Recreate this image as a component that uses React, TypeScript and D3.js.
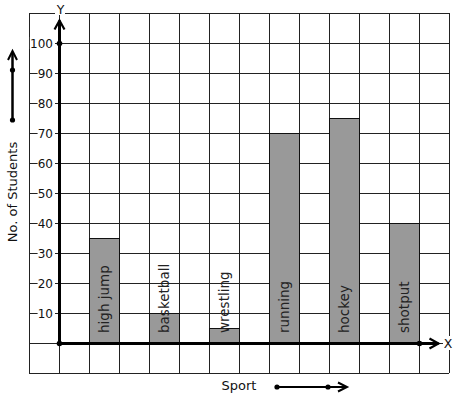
import React from 'react'
import * as d3 from 'd3'

// chart data
const sports = ['high jump', 'basketball', 'wrestling', 'running', 'hockey', 'shotput']
const students = [35, 10, 5, 70, 75, 40]
const yTicks = [10, 20, 30, 40, 50, 60, 70, 80, 90, 100]

const W = 457
const H = 399
const FONT = 'DejaVu Sans, sans-serif'

export default function App() {
  // grid units: one column per unit, one row per 10 students
  const x = d3.scaleLinear().domain([-1, 13]).range([29, 449])
  const y = d3.scaleLinear().domain([-10, 110]).range([373, 13])
  const band = d3.scaleBand<string>()
    .domain(sports)
    .range([x(1), x(12)])
    .paddingInner(0.5)
    .paddingOuter(0)

  const gridX = d3.range(-1, 14)
  const gridY = d3.range(-10, 111, 10)

  const x0 = x(0)
  const y0 = y(0)
  const yTop = y(107.5)
  const xEnd = x(12.65)

  return (
    <svg width={W} height={H} style={{ position: 'absolute', left: 0, top: 0, background: '#fff' }}
      fontFamily={FONT}>
      {/* grid */}
      <g stroke='#222' strokeWidth={1} shapeRendering='crispEdges'>
        {gridX.map(v => (
          <line key={'gx' + v} x1={x(v) + 0.5} x2={x(v) + 0.5} y1={y(-10)} y2={y(110)} />
        ))}
        {gridY.map(v => (
          <line key={'gy' + v} x1={x(-1)} x2={x(13)} y1={y(v) + 0.5} y2={y(v) + 0.5} />
        ))}
      </g>

      {/* bars */}
      {sports.map((s, i) => (
        <rect key={s} x={band(s)! + 0.5} y={y(students[i]) + 0.5} width={band.bandwidth()}
          height={y0 - y(students[i])} fill='#999' stroke='#111' strokeWidth={1} />
      ))}

      {/* bar labels */}
      {sports.map(s => {
        const cx = band(s)! + band.bandwidth() / 2 + 5
        const by = y0 - 10
        return (
          <text key={'l' + s} transform={`translate(${cx},${by}) rotate(-90)`}
            fontSize={13.5} fill='#222'>{s}</text>
        )
      })}

      {/* axes */}
      <g stroke='#000' strokeWidth={3} fill='none'>
        <line x1={x0 + 0.5} x2={x0 + 0.5} y1={y0} y2={yTop} />
        <line x1={x0} x2={xEnd} y1={y0 + 0.5} y2={y0 + 0.5} />
      </g>
      <g stroke='#000' strokeWidth={2.2} fill='none'>
        <polyline points={`${x0 - 4.5},${yTop + 9} ${x0 + 0.5},${yTop} ${x0 + 5.5},${yTop + 9}`} />
        <polyline points={`${xEnd - 9},${y0 - 4.5} ${xEnd},${y0 + 0.5} ${xEnd - 9},${y0 + 5.5}`} />
      </g>

      {/* y tick labels */}
      {yTicks.map(t => (
        <g key={'t' + t}>
          <rect x={x0 - 5 - t.toString().length * 7.7 - 1} y={y(t) - 6} width={t.toString().length * 7.7 + 2}
            height={12} fill='#fff' />
          <text x={x0 - 6} y={y(t) + 0.5} dy='0.35em' textAnchor='end' fontSize={12} fill='#111'>{t}</text>
        </g>
      ))}

      {/* dots */}
      <g fill='#000'>
        <circle cx={x0 + 0.5} cy={y0 + 0.5} r={2.8} />
        <circle cx={x0 + 0.5} cy={y(100) + 0.5} r={2.8} />
        <circle cx={x(12) + 0.5} cy={y0 + 0.5} r={2.8} />
      </g>

      {/* axis names */}
      <rect x={x0 - 4} y={2} width={10} height={13} fill='#fff' />
      <text x={x0 + 1.5} y={14} textAnchor='middle' fontSize={12.5} fill='#111'>Y</text>
      <rect x={443} y={336} width={10} height={14} fill='#fff' />
      <text x={448} y={y0 + 0.5} dy='0.36em' textAnchor='middle' fontSize={12.5} fill='#111'>X</text>

      {/* y title with arrow */}
      <text transform={`translate(17,${y(50) - 1}) rotate(-90)`} textAnchor='middle' fontSize={13}
        fill='#111'>No. of Students</text>
      <g stroke='#000' strokeWidth={2.5} fill='none'>
        <line x1={12.5} x2={12.5} y1={120} y2={52} />
        <polyline points='8,60 12.5,51 17,60' strokeWidth={2} />
      </g>
      <circle cx={12.5} cy={120} r={2.6} fill='#000' />
      <circle cx={12.5} cy={70} r={2.6} fill='#000' />

      {/* x title with arrow */}
      <text x={239} y={390} textAnchor='middle' fontSize={13} fill='#111'>Sport</text>
      <g stroke='#000' strokeWidth={2.2} fill='none'>
        <line x1={277} x2={346} y1={387} y2={387} />
        <polyline points='338,382.5 347,387 338,391.5' strokeWidth={2} />
      </g>
      <circle cx={277} cy={387} r={2.6} fill='#000' />
      <circle cx={328} cy={387} r={2.6} fill='#000' />
    </svg>
  )
}
